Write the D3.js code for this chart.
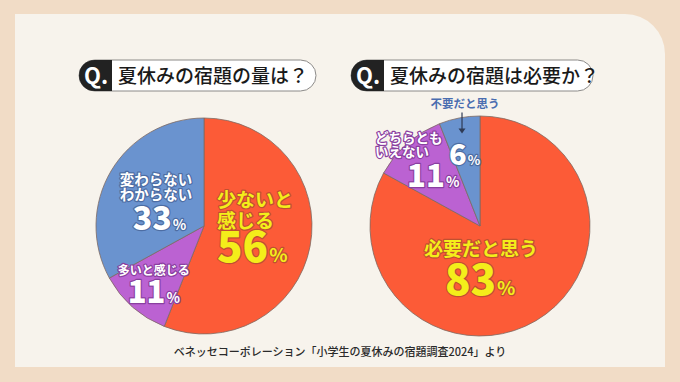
<!DOCTYPE html>
<html>
<head>
<meta charset="utf-8">
<script src="https://cdn.jsdelivr.net/npm/d3@7"></script>
<style>
  body { margin: 0; background: #f1dcc6; }
  svg { display: block; font-family: "Noto Sans CJK JP", "Noto Sans", sans-serif; }
</style>
</head>
<body>
<div id="chart"></div>
<script>
// data
const leftTitle = "夏休みの宿題の量は？"
const leftLabels = ["少ないと感じる", "多いと感じる", "変わらない・わからない"]
const leftValues = [56, 11, 33]

const rightTitle = "夏休みの宿題は必要か？"
const rightLabels = ["必要だと思う", "どちらともいえない", "不要だと思う"]
const rightValues = [83, 11, 6]

const source = "ベネッセコーポレーション「小学生の夏休みの宿題調査2024」より"

const colors = ["#fc5b37", "#bb62d2", "#6a93cf"]
const yellow = "#f4ee1a"

const width = 680
const height = 382

const svg = d3.select("#chart")
    .append("svg")
    .attr("width", width)
    .attr("height", height)

// background panels
svg.append("rect")
    .attr("width", width)
    .attr("height", height)
    .attr("fill", "#f1dcc6")
svg.append("path")
    .attr("d", "M15,14 H625 A40,40 0 0 1 665,54 V367 H15 Z")
    .attr("fill", "#f7f3ec")

// title pills
function drawTitle(x, w, text) {
    const g = svg.append("g").attr("transform", `translate(${x},60)`)
    const h = 31, r = 15.5
    g.append("rect")
        .attr("width", w).attr("height", h)
        .attr("rx", r)
        .attr("fill", "#fff")
        .attr("stroke", "#8c8a88")
        .attr("stroke-width", 1)
    g.append("path")
        .attr("d", `M${r},0 H33 V${h} H${r} A${r},${r} 0 0 1 ${r},0 Z`)
        .attr("fill", "#222")
    g.append("text")
        .attr("x", 17).attr("y", 24)
        .attr("text-anchor", "middle")
        .attr("fill", "#fff")
        .style("font-size", "22px")
        .style("font-weight", 700)
        .text("Q.")
    g.append("text")
        .attr("x", 39).attr("y", 23)
        .attr("fill", "#1a1a1a")
        .style("font-size", "19px")
        .style("font-weight", 500)
        .text(text)
}
drawTitle(79, 237, leftTitle)
drawTitle(351, 242, rightTitle)

const pie = d3.pie().sort(null).value(d => d)

function drawPie(cx, cy, radius, values) {
    const g = svg.append("g").attr("transform", `translate(${cx},${cy})`)
    const arc = d3.arc().innerRadius(0).outerRadius(radius)
    const arcs = pie(values)
    g.selectAll("path")
        .data(arcs)
        .join("path")
        .attr("d", arc)
        .attr("fill", (d, i) => colors[i])
        .attr("stroke", "#7d6a62")
        .attr("stroke-width", 0.8)
    return { g, arcs }
}

// one text per label, lines as tspans: [text, size, dx, dy, anchor]
function drawLabel(g, arcD, labelR, fill, outline, lines) {
    const c = d3.arc().innerRadius(labelR).outerRadius(labelR).centroid(arcD)
    const t = g.append("text")
        .attr("fill", fill)
        .attr("stroke", outline)
        .attr("stroke-width", outline === "none" ? 0 : 2.4)
        .attr("stroke-linejoin", "round")
        .style("paint-order", "stroke")
        .style("font-weight", 700)
    lines.forEach(l => {
        const [txt, size, dx, dy, anchor] = l
        const s = t.append("tspan")
            .attr("x", c[0] + dx)
            .attr("y", c[1] + dy)
            .attr("text-anchor", anchor)
            .style("font-size", size + "px")
        if (txt.endsWith("%")) {
            s.style("font-weight", 900).text(txt.slice(0, -1))
            t.append("tspan")
                .attr("text-anchor", anchor)
                .style("font-size", Math.round(size * 0.45) + "px")
                .attr("dx", 1)
                .text("%")
        } else {
            s.text(txt)
        }
    })
}

// left pie
const left = drawPie(204, 226, 108, leftValues)
drawLabel(left.g, left.arcs[0], 55, yellow, "#c0502f", [
    ["少ないと", 19, -41, -29, "start"],
    ["感じる", 19, -41, -8, "start"],
    [leftValues[0] + "%", 42, -41, 26, "start"]
])
drawLabel(left.g, left.arcs[2], 62, "#fff", "#4d6da3", [
    ["変わらない", 14.5, -31, -9, "start"],
    ["わからない", 14.5, -31, 5.5, "start"],
    [leftValues[2] + "%", 32, -18, 36, "start"]
])
drawLabel(left.g, left.arcs[1], 70, "#fff", "#8a3fa0", [
    [leftLabels[1], 12, -4, -4, "middle"],
    [leftValues[1] + "%", 31, -30, 24.5, "start"]
])

// right pie
const right = drawPie(480, 226, 110, rightValues)
drawLabel(right.g, right.arcs[0], 45, yellow, "#c0502f", [
    [rightLabels[0], 19, -22, -9, "middle"],
    [rightValues[0] + "%", 42, -58, 30, "start"]
])
drawLabel(right.g, right.arcs[1], 80, "#fff", "#8a3fa0", [
    ["どちらとも", 13.5, -52, -23, "start"],
    ["いえない", 13.5, -52, -9, "start"],
    [rightValues[1] + "%", 31, -20, 21, "start"]
])
drawLabel(right.g, right.arcs[2], 80, "#fff", "#4d6da3", [
    [rightValues[2] + "%", 29, -16, 17.6, "start"]
])
drawLabel(right.g, right.arcs[2], 80, "#4a6db0", "none", [
    [rightLabels[2], 11.5, 0, -39.4, "middle"]
])

// arrow for the small slice
const ac = d3.arc().innerRadius(80).outerRadius(80).centroid(right.arcs[2])
right.g.append("line")
    .attr("x1", ac[0] - 3).attr("x2", ac[0] - 3)
    .attr("y1", ac[1] - 35).attr("y2", ac[1] - 18)
    .attr("stroke", "#2e3a55")
    .attr("stroke-width", 1.2)
right.g.append("path")
    .attr("d", `M${ac[0] - 6.5},${ac[1] - 19} L${ac[0] + 0.5},${ac[1] - 19} L${ac[0] - 3},${ac[1] - 14} Z`)
    .attr("fill", "#2e3a55")

// source
svg.append("text")
    .attr("x", 340).attr("y", 356)
    .attr("text-anchor", "middle")
    .attr("fill", "#2a2a2a")
    .style("font-size", "11px")
    .style("font-weight", 500)
    .text(source)
</script>
</body>
</html>
